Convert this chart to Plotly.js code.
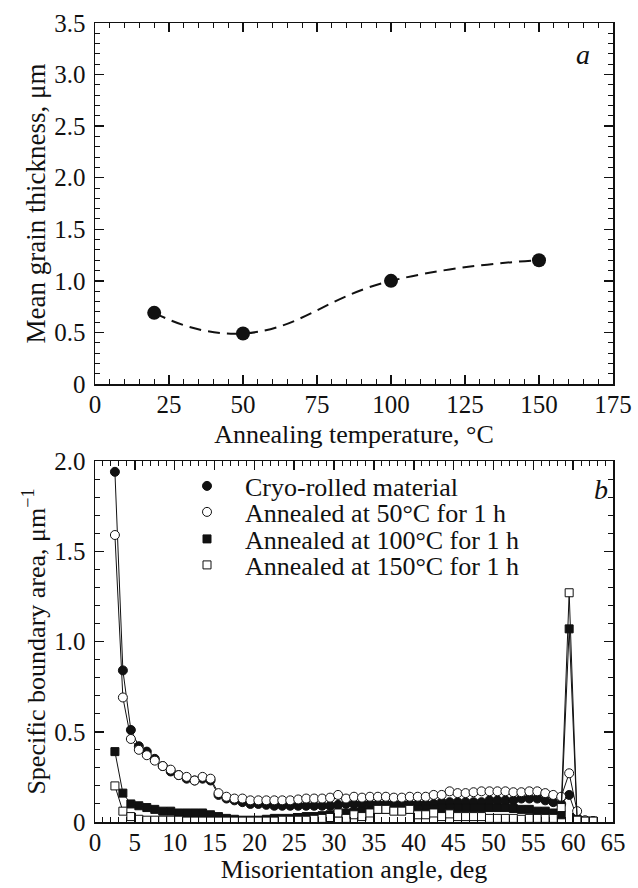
<!DOCTYPE html>
<html>
<head>
<meta charset="utf-8">
<script src="https://cdn.plot.ly/plotly-3.0.1.min.js"></script>
<style>html,body{margin:0;padding:0;background:#fff;}#chart{width:638px;height:888px;}</style>
</head>
<body>
<div id="chart"></div>
<script>
// ---- Panel a data ----
const annealTemp = [20, 50, 100, 150];
const grainThickness = [0.69, 0.49, 1.00, 1.20];

// ---- Panel b data ----
const misAngle = [2.5,3.5,4.5,5.5,6.5,7.5,8.5,9.5,10.5,11.5,12.5,13.5,14.5,15.5,16.5,17.5,18.5,19.5,20.5,21.5,22.5,23.5,24.5,25.5,26.5,27.5,28.5,29.5,30.5,31.5,32.5,33.5,34.5,35.5,36.5,37.5,38.5,39.5,40.5,41.5,42.5,43.5,44.5,45.5,46.5,47.5,48.5,49.5,50.5,51.5,52.5,53.5,54.5,55.5,56.5,57.5,58.5,59.5,60.5,61.5,62.5];
const cryoRolled = [1.94,0.84,0.51,0.42,0.39,0.35,0.31,0.28,0.26,0.24,0.23,0.24,0.23,0.15,0.13,0.12,0.11,0.10,0.10,0.095,0.09,0.09,0.09,0.09,0.09,0.09,0.09,0.09,0.095,0.10,0.10,0.10,0.10,0.10,0.10,0.10,0.10,0.10,0.10,0.10,0.10,0.11,0.11,0.11,0.11,0.11,0.11,0.12,0.12,0.12,0.12,0.13,0.13,0.13,0.12,0.11,0.10,0.15,0.02,0.005,0.005];
const annealed50 = [1.59,0.69,0.46,0.40,0.37,0.34,0.31,0.29,0.26,0.25,0.23,0.25,0.24,0.16,0.14,0.13,0.13,0.12,0.12,0.12,0.12,0.12,0.12,0.125,0.13,0.13,0.13,0.135,0.15,0.13,0.14,0.135,0.14,0.14,0.14,0.135,0.135,0.14,0.14,0.14,0.15,0.15,0.17,0.16,0.16,0.165,0.17,0.17,0.17,0.17,0.165,0.165,0.17,0.17,0.16,0.15,0.14,0.27,0.06,0.01,0.005];
const annealed100 = [0.39,0.16,0.10,0.09,0.08,0.07,0.06,0.06,0.05,0.05,0.05,0.05,0.04,0.03,0.02,0.015,0.01,0.01,0.01,0.015,0.02,0.02,0.02,0.025,0.03,0.03,0.035,0.04,0.05,0.05,0.055,0.06,0.06,0.07,0.07,0.07,0.07,0.07,0.07,0.07,0.07,0.075,0.08,0.08,0.08,0.08,0.08,0.08,0.08,0.08,0.075,0.07,0.07,0.06,0.06,0.05,0.04,1.07,0.01,0.005,0.005];
const annealed150 = [0.20,0.06,0.03,0.015,0.01,0.01,0.01,0.01,0.01,0.005,0.005,0.005,0.005,0.005,0.005,0.005,0.005,0.005,0.005,0.005,0.005,0.01,0.01,0.01,0.01,0.015,0.02,0.025,0.05,0.02,0.04,0.03,0.05,0.07,0.07,0.06,0.06,0.07,0.04,0.04,0.05,0.03,0.045,0.03,0.03,0.03,0.03,0.02,0.02,0.02,0.02,0.015,0.02,0.02,0.02,0.02,0.08,1.27,0.01,0.005,0.005];

const seriesNames = ["Cryo-rolled material","Annealed at 50°C for 1 h","Annealed at 100°C for 1 h","Annealed at 150°C for 1 h"];

// ---- Tick labels ----
const topYTickVals = [0,0.5,1,1.5,2,2.5,3,3.5];
const topYTickText = ["0","0.5","1.0","1.5","2.0","2.5","3.0","3.5"];
const botYTickVals = [0,0.5,1,1.5,2];
const botYTickText = ["0","0.5","1.0","1.5","2.0"];

const FONT = "'Liberation Serif', 'Times New Roman', Times, serif";
const W = 638, H = 888;
const px = v => v / W;
const py = v => 1 - v / H;

const seriesData = [cryoRolled, annealed50, annealed100, annealed150];
const markerStyles = [
  {symbol:"circle", size:9, open:false},
  {symbol:"circle", size:9, open:true},
  {symbol:"square", size:8, open:false},
  {symbol:"square", size:8, open:true}
];

const traces = [
  {x: annealTemp, y: grainThickness, mode:"lines", line:{shape:"spline", smoothing:1.3, dash:"12px,7px", color:"#111", width:2}, xaxis:"x", yaxis:"y", showlegend:false, hoverinfo:"skip"},
  {x: annealTemp, y: grainThickness, mode:"markers", marker:{symbol:"circle", size:14, color:"#111"}, xaxis:"x", yaxis:"y", showlegend:false}
];

seriesData.forEach((vals, i) => {
  const ms = markerStyles[i];
  traces.push({x: misAngle, y: vals, mode:"lines", line:{color:"#111", width:1}, xaxis:"x2", yaxis:"y2", showlegend:false, hoverinfo:"skip"});
  traces.push({
    x: misAngle, y: vals, mode:"markers", name: seriesNames[i],
    marker: {symbol: ms.symbol, size: ms.size, color: ms.open ? "#fff" : "#111", line:{color:"#111", width:1}},
    xaxis:"x2", yaxis:"y2", legend: i === 0 ? "legend" : "legend" + (i+1)
  });
});

const axisCommon = {
  showline:true, linecolor:"#111", linewidth:1.5, mirror:"ticks",
  ticks:"inside", ticklen:9, tickwidth:1.5, tickcolor:"#111",
  showgrid:false, zeroline:false,
  tickfont:{family:FONT, size:25, color:"#111"}
};

const legendRowsY = [486, 512, 539, 565];
const legendBase = {x: px(169), xanchor:"left", yanchor:"middle", bgcolor:"rgba(0,0,0,0)", borderwidth:0,
  font:{family:FONT, size:26, color:"#111"}, itemwidth:66, tracegroupgap:0};

const layout = {
  width: W, height: H,
  margin:{l:0, r:0, t:0, b:0},
  paper_bgcolor:"#fff", plot_bgcolor:"#fff",
  font:{family:FONT, color:"#111"},
  xaxis: Object.assign({}, axisCommon, {
    domain:[px(95), px(613)], anchor:"y", range:[0,175], dtick:25, tick0:0,
    ticklabelstandoff:-3,
    minor:{dtick:5, ticklen:5, tickwidth:1, ticks:"inside", tickcolor:"#111"},
    title:{text:"Annealing temperature, °C", font:{family:FONT, size:26, color:"#111"}, standoff:8}
  }),
  yaxis: Object.assign({}, axisCommon, {
    domain:[py(384), py(23)], anchor:"x", range:[0,3.5],
    tickvals: topYTickVals, ticktext: topYTickText, ticklabelstandoff:3,
    minor:{dtick:0.1, ticklen:5, tickwidth:1, ticks:"inside", tickcolor:"#111"},
    title:{text:"Mean grain thickness, μm", font:{family:FONT, size:27, color:"#111"}, standoff:1}
  }),
  xaxis2: Object.assign({}, axisCommon, {
    domain:[px(95), px(613)], anchor:"y2", range:[0,65], dtick:5, tick0:0,
    ticklabelstandoff:-3,
    minor:{dtick:1, ticklen:5, tickwidth:1, ticks:"inside", tickcolor:"#111"},
    title:{text:"Misorientation angle, deg", font:{family:FONT, size:26, color:"#111"}, standoff:2}
  }),
  yaxis2: Object.assign({}, axisCommon, {
    domain:[py(822), py(461)], anchor:"x2", range:[0,2.0],
    tickvals: botYTickVals, ticktext: botYTickText, ticklabelstandoff:3,
    minor:{dtick:0.1, ticklen:5, tickwidth:1, ticks:"inside", tickcolor:"#111"},
    title:{text:"Specific boundary area, μm<sup>−1</sup>", font:{family:FONT, size:26, color:"#111"}, standoff:1}
  }),
  legend:  Object.assign({}, legendBase, {y: py(legendRowsY[0])}),
  legend2: Object.assign({}, legendBase, {y: py(legendRowsY[1])}),
  legend3: Object.assign({}, legendBase, {y: py(legendRowsY[2])}),
  legend4: Object.assign({}, legendBase, {y: py(legendRowsY[3])}),
  annotations:[
    {text:"<i>a</i>", xref:"paper", yref:"paper", x:px(583), y:py(54), xanchor:"center", yanchor:"middle", showarrow:false, font:{family:FONT, size:28, color:"#111"}},
    {text:"<i>b</i>", xref:"paper", yref:"paper", x:px(601), y:py(489), xanchor:"center", yanchor:"middle", showarrow:false, font:{family:FONT, size:28, color:"#111"}}
  ],
  showlegend:true
};

Plotly.newPlot("chart", traces, layout, {displayModeBar:false, staticPlot:true});
</script>
</body>
</html>
